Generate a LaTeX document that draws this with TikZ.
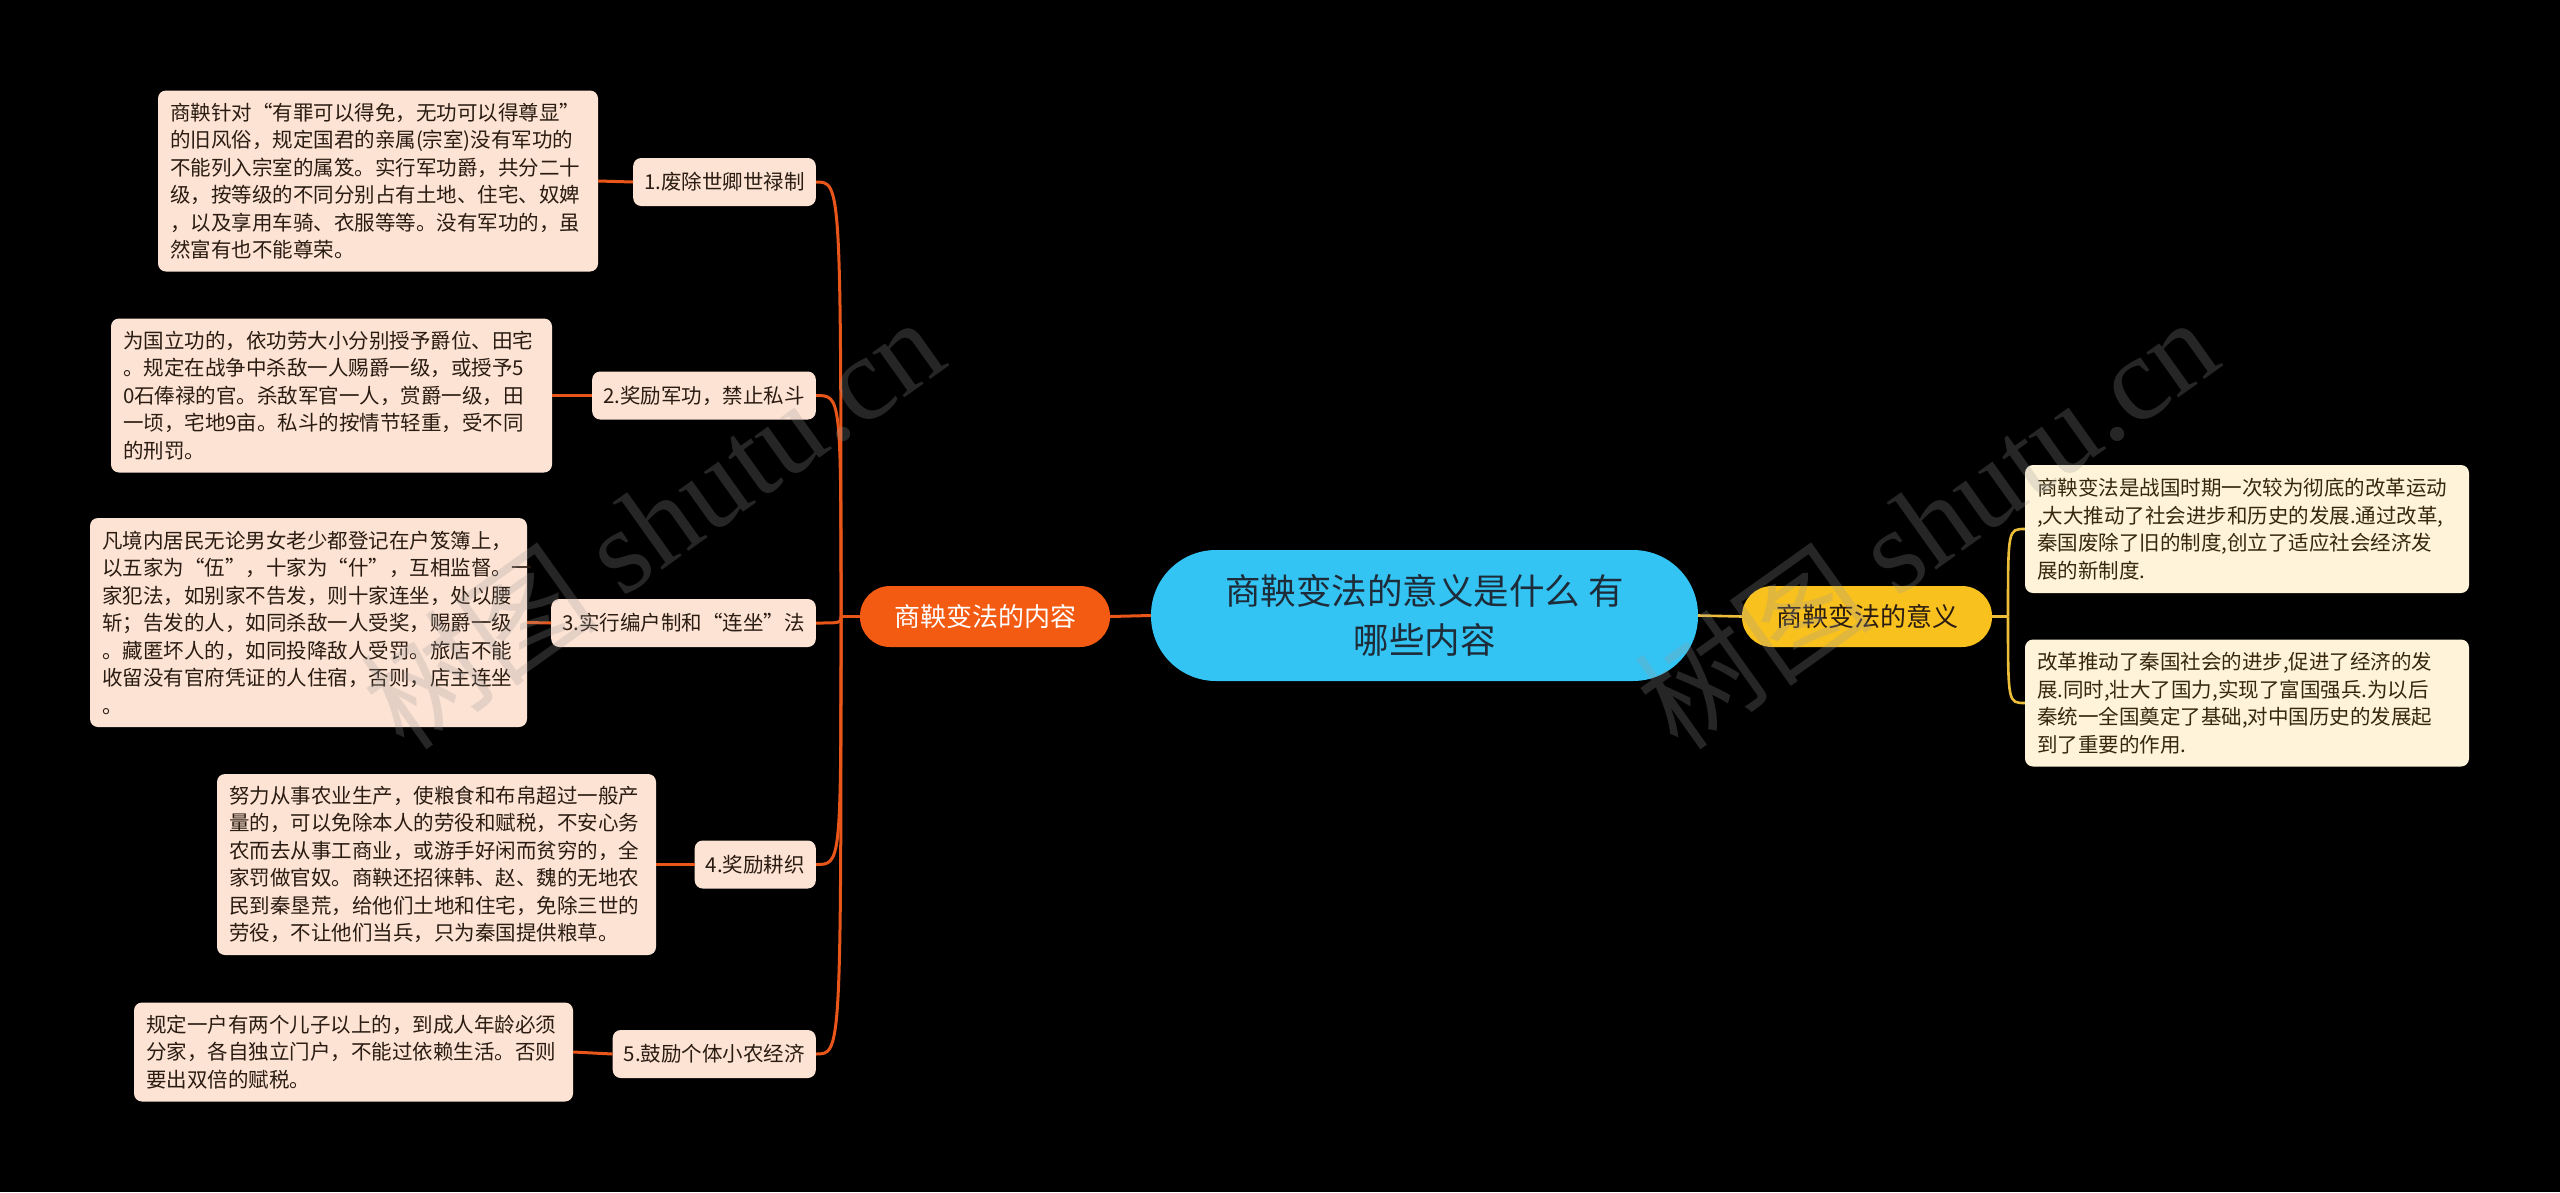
\documentclass[tikz,border=0pt]{standalone}
\usepackage{fontspec}
\setmainfont{Noto Sans CJK SC}
\newfontfamily\wmserif{Liberation Serif}
\newfontfamily\wmcjk{Noto Sans CJK SC}
\usetikzlibrary{calc}
\definecolor{bgc}{HTML}{000000}
\definecolor{centerc}{HTML}{33C4F4}
\definecolor{centertxt}{HTML}{1E2B38}
\definecolor{orangec}{HTML}{F35A12}
\definecolor{orangeln}{HTML}{E8561A}
\definecolor{peach}{HTML}{FDE3D4}
\definecolor{peachtxt}{HTML}{2A1C12}
\definecolor{yellowc}{HTML}{F8C11D}
\definecolor{yellowln}{HTML}{EDBE3A}
\definecolor{cream}{HTML}{FFF4D9}
\definecolor{creamtxt}{HTML}{35280F}
\definecolor{wmgray}{HTML}{9A9A9A}
\begin{document}
\begin{tikzpicture}[x=1pt,y=-1pt,
  leafL/.style={fill=peach, rounded corners=8pt, text width=#1, align=left,
    inner xsep=12pt, inner ysep=4pt, text=peachtxt,
    font=\fontsize{20.5}{27.5}\selectfont},
  leafR/.style={fill=cream, rounded corners=8pt, text width=#1, align=left,
    inner xsep=12pt, inner ysep=4pt, text=creamtxt,
    font=\fontsize{20.5}{27.5}\selectfont},
  subL/.style={fill=peach, rounded corners=8pt, inner xsep=11pt, inner ysep=0pt,
    minimum height=48pt, text=peachtxt, font=\fontsize{20.5}{24}\selectfont},
  mainL/.style={fill=orangec, rounded corners=30pt, minimum width=250pt,
    minimum height=61pt, text=white, font=\fontsize{26}{30}\selectfont},
  mainR/.style={fill=yellowc, rounded corners=30pt, minimum width=250pt,
    minimum height=61pt, text=peachtxt, font=\fontsize{26}{30}\selectfont},
  rootn/.style={fill=centerc, rounded corners=65pt, minimum width=547pt,
    minimum height=131pt, align=center, text=centertxt,
    font=\fontsize{35.5}{49}\selectfont},
  oline/.style={draw=orangeln, line width=3pt},
  yline/.style={draw=yellowln, line width=2.6pt},
  wmark/.style={text=wmgray, opacity=0.25, rotate=35.5}
]
\useasboundingbox (0,0) rectangle (2560,1192);
\fill[bgc] (0,0) rectangle (2560,1192);

% root and main branches
\node[rootn] (root) at (1424.5,615.5) {商鞅变法的意义是什么 有\\哪些内容};
\node[mainL] (content) at (985,616.5) {商鞅变法的内容};
\node[mainR] (mean) at (1867,616.5) {商鞅变法的意义};

% left sub nodes
\node[subL, anchor=east] (n1) at (816,182) {1.废除世卿世禄制};
\node[subL, anchor=east] (n2) at (816,395.5) {2.奖励军功，禁止私斗};
\node[subL, anchor=east] (n3) at (816,623) {3.实行编户制和“连坐”法};
\node[subL, anchor=east] (n4) at (816,864.5) {4.奖励耕织};
\node[subL, anchor=east] (n5) at (816,1054) {5.鼓励个体小农经济};

% left leaves
\node[leafL=416pt, minimum height=181pt] (l1) at (378,181) {商鞅针对“有罪可以得免，无功可以得尊显”\\的旧风俗，规定国君的亲属(宗室)没有军功的\\不能列入宗室的属笈。实行军功爵，共分二十\\级，按等级的不同分别占有土地、住宅、奴婢\\，以及享用车骑、衣服等等。没有军功的，虽\\然富有也不能尊荣。};
\node[leafL=417pt, minimum height=154pt] (l2) at (331.5,395.5) {为国立功的，依功劳大小分别授予爵位、田宅\\。规定在战争中杀敌一人赐爵一级，或授予5\\0石俸禄的官。杀敌军官一人，赏爵一级，田\\一顷，宅地9亩。私斗的按情节轻重，受不同\\的刑罚。};
\node[leafL=413pt, minimum height=209pt] (l3) at (308.5,622.5) {凡境内居民无论男女老少都登记在户笈簿上，\\以五家为“伍”，十家为“什”，互相监督。一\\家犯法，如别家不告发，则十家连坐，处以腰\\斩；告发的人，如同杀敌一人受奖，赐爵一级\\。藏匿坏人的，如同投降敌人受罚。旅店不能\\收留没有官府凭证的人住宿，否则，店主连坐\\。};
\node[leafL=415pt, minimum height=181pt] (l4) at (436.5,864.5) {努力从事农业生产，使粮食和布帛超过一般产\\量的，可以免除本人的劳役和赋税，不安心务\\农而去从事工商业，或游手好闲而贫穷的，全\\家罚做官奴。商鞅还招徕韩、赵、魏的无地农\\民到秦垦荒，给他们土地和住宅，免除三世的\\劳役，不让他们当兵，只为秦国提供粮草。};
\node[leafL=415pt, minimum height=99pt] (l5) at (353.5,1052) {规定一户有两个儿子以上的，到成人年龄必须\\分家，各自独立门户，不能过依赖生活。否则\\要出双倍的赋税。};

% right leaves
\node[leafR=420pt, minimum height=128pt] (r1) at (2247,529) {商鞅变法是战国时期一次较为彻底的改革运动\\,大大推动了社会进步和历史的发展.通过改革,\\秦国废除了旧的制度,创立了适应社会经济发\\展的新制度.};
\node[leafR=420pt, minimum height=127pt] (r2) at (2247,703) {改革推动了秦国社会的进步,促进了经济的发\\展.同时,壮大了国力,实现了富国强兵.为以后\\秦统一全国奠定了基础,对中国历史的发展起\\到了重要的作用.};

% connectors
\coordinate (sL) at (841,616.5);
\coordinate (sR) at (2008,616.5);
\draw[oline] (root.west) -- (content.east);
\draw[yline] (root.east) -- (mean.west);
\draw[oline] (content.west) -- (sL);
\foreach \n in {n1,n2,n3,n4,n5}{
  \draw[oline] (sL) .. controls (sL |- \n.east) .. (\n.east);
}
\draw[oline] (n1.west) -- (l1.east);
\draw[oline] (n2.west) -- (l2.east);
\draw[oline] (n3.west) -- (l3.east);
\draw[oline] (n4.west) -- (l4.east);
\draw[oline] (n5.west) -- (l5.east);
\draw[yline] (mean.east) -- (sR);
\draw[yline] (sR) .. controls (sR |- r1.west) .. (r1.west);
\draw[yline] (sR) .. controls (sR |- r2.west) .. (r2.west);

% watermarks
\node[wmark] (wm1) at (652,522) {\fontsize{120}{130}\selectfont\wmcjk 树图\ \wmserif shutu.cn};
\node[wmark] (wm2) at (1926,522) {\fontsize{120}{130}\selectfont\wmcjk 树图\ \wmserif shutu.cn};
\end{tikzpicture}
\end{document}
